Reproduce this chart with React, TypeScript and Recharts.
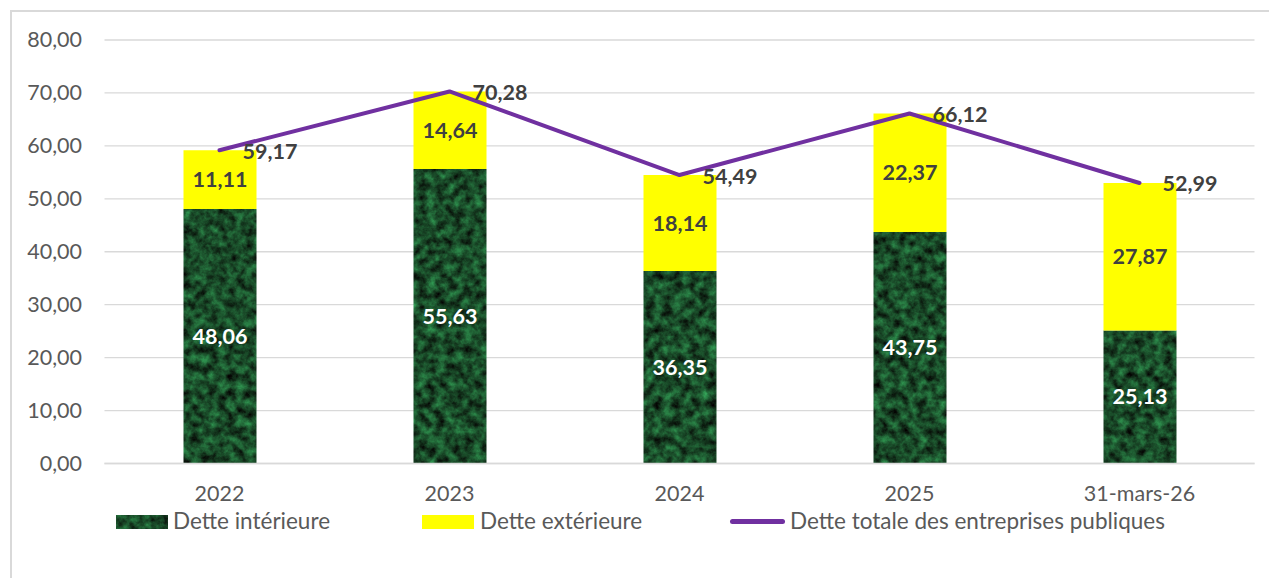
import React from 'react';
import { ComposedChart, Bar, Line, XAxis, YAxis, CartesianGrid, LabelList } from 'recharts';

const categories = ['2022', '2023', '2024', '2025', '31-mars-26'];
const detteInterieure = [48.06, 55.63, 36.35, 43.75, 25.13];
const detteExterieure = [11.11, 14.64, 18.14, 22.37, 27.87];
const detteTotale = [59.17, 70.28, 54.49, 66.12, 52.99];
const yTicks = [0, 10, 20, 30, 40, 50, 60, 70, 80];
const seriesNames = ['Dette intérieure', 'Dette extérieure', 'Dette totale des entreprises publiques'];

const data = categories.map((c, i) => ({
  cat: c,
  interieure: detteInterieure[i],
  exterieure: detteExterieure[i],
  totale: detteTotale[i],
}));

const FONT = 'Lato, "Open Sans", sans-serif';
const fmt = (v: number) => v.toFixed(2).replace('.', ',');

const YTick = (props: any) => (
  <text x={82} y={props.y} dy={7} textAnchor="end" fontFamily={FONT} fontSize={21.5} fill="#595959">
    {fmt(Number(props.payload.value))}
  </text>
);

const XTick = (props: any) => (
  <text x={props.x} y={501} textAnchor="middle" fontFamily={FONT} fontSize={21.5} fill="#595959">
    {props.payload.value}
  </text>
);

const innerLabel = (color: string) => (props: any) => {
  const { x, y, width, height, value } = props;
  return (
    <text x={x + width / 2} y={y + height / 2} dy={7.5} textAnchor="middle" fontFamily={FONT} fontWeight={700} fontSize={21.5} fill={color}>
      {fmt(Number(value))}
    </text>
  );
};

const lineLabel = (props: any) => {
  const { x, y, value } = props;
  return (
    <text x={x + 23} y={y} dy={8.5} textAnchor="start" fontFamily={FONT} fontWeight={700} fontSize={21.5} fill="#404040">
      {fmt(Number(value))}
    </text>
  );
};

export default function App() {
  return (
    <div style={{ position: 'fixed', left: 0, top: 0, width: 1269, height: 578, background: '#fff' }}>
      <svg width={0} height={0} style={{ position: 'absolute' }}>
        <defs>
          <filter id="marbleF" filterUnits="userSpaceOnUse" x={0} y={0} width={1300} height={600} colorInterpolationFilters="sRGB">
            <feTurbulence type="fractalNoise" baseFrequency="0.11" numOctaves={4} seed={7} result="n" />
            <feColorMatrix
              in="n"
              type="matrix"
              values="0.22 0 0 0 -0.01  0.75 0 0 0 -0.08  0.4 0 0 0 -0.04  0 0 0 0 1"
            />
          </filter>
          <pattern id="marble" patternUnits="userSpaceOnUse" width={1300} height={600}>
            <rect width={1300} height={600} fill="#1d4f2c" filter="url(#marbleF)" />
          </pattern>
        </defs>
      </svg>
      <div style={{ position: 'absolute', left: 10, top: 10, width: 1.5, height: 568, background: '#d9d9d9' }} />
      <div style={{ position: 'absolute', left: 10, top: 10, width: 1259, height: 1.5, background: '#d9d9d9' }} />
      <ComposedChart
        width={1269}
        height={578}
        data={data}
        margin={{ top: 40, right: 14.5, bottom: 84.5, left: 0 }}
        style={{ position: 'absolute', left: 0, top: 0 }}
      >
        <CartesianGrid vertical={false} stroke="#d9d9d9" strokeWidth={1.3} />
        <XAxis dataKey="cat" height={30} tickLine={false} axisLine={{ stroke: '#d9d9d9', strokeWidth: 1.3 }} tick={<XTick />} interval={0} />
        <YAxis width={104.5} domain={[0, 80]} ticks={yTicks} tickLine={false} axisLine={false} tick={<YTick />} />
        <Bar dataKey="interieure" stackId="a" fill="url(#marble)" barSize={73} isAnimationActive={false}>
          <LabelList dataKey="interieure" content={innerLabel('#ffffff')} />
        </Bar>
        <Bar dataKey="exterieure" stackId="a" fill="#ffff00" barSize={73} isAnimationActive={false}>
          <LabelList dataKey="exterieure" content={innerLabel('#404040')} />
        </Bar>
        <Line dataKey="totale" stroke="#7030a0" strokeWidth={4} dot={false} strokeLinecap="round" strokeLinejoin="round" isAnimationActive={false}>
          <LabelList dataKey="totale" content={lineLabel} />
        </Line>
      </ComposedChart>
      <div style={{ position: 'absolute', left: 0, top: 508, width: 1269, height: 26, fontFamily: FONT, fontSize: 22.5, color: '#595959' }}>
        <svg width={52} height={14} style={{ position: 'absolute', left: 116, top: 7 }}>
          <rect width={52} height={14} fill="url(#marble)" />
        </svg>
        <span style={{ position: 'absolute', left: 173, top: 0, whiteSpace: 'nowrap', lineHeight: '26px' }}>{seriesNames[0]}</span>
        <div style={{ position: 'absolute', left: 422, top: 7, width: 52, height: 14, background: '#ffff00' }} />
        <span style={{ position: 'absolute', left: 480, top: 0, whiteSpace: 'nowrap', lineHeight: '26px' }}>{seriesNames[1]}</span>
        <div style={{ position: 'absolute', left: 730, top: 11, width: 55, height: 4.5, borderRadius: 3, background: '#7030a0' }} />
        <span style={{ position: 'absolute', left: 790, top: 0, whiteSpace: 'nowrap', lineHeight: '26px' }}>{seriesNames[2]}</span>
      </div>
    </div>
  );
}
